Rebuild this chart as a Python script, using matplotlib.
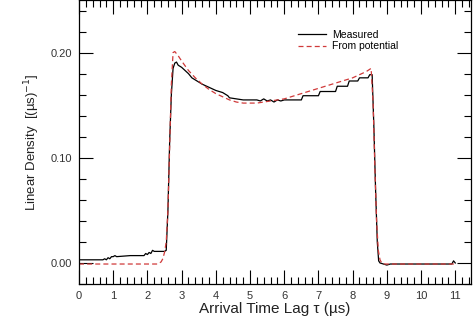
import numpy as np
import matplotlib.pyplot as plt
from matplotlib.ticker import MultipleLocator

# measured linear density (black)
meas_t = [0.0, 0.7, 0.75, 0.8, 0.85, 0.9, 0.95, 1.0, 1.05, 1.1,
          1.5, 1.9, 1.95, 2.0, 2.05, 2.1, 2.15, 2.2, 2.5, 2.55,
          2.6, 2.65, 2.7, 2.75, 2.8, 2.85, 2.9, 3.0, 3.1, 3.2,
          3.3, 3.4, 3.5, 3.6, 3.8, 4.0, 4.2, 4.35, 4.4, 4.6,
          4.8, 5.0, 5.2, 5.3, 5.4, 5.5, 5.6, 5.7, 5.8, 5.9,
          6.0, 6.5, 6.55, 7.0, 7.05, 7.5, 7.55, 7.85, 7.9, 8.15,
          8.2, 8.45, 8.5, 8.57, 8.62, 8.67, 8.72, 8.76, 8.8, 8.9,
          9.0, 9.1, 10.0, 10.9, 10.95, 11.0]
meas_y = [0.003, 0.003, 0.004, 0.003, 0.005, 0.004, 0.006, 0.006, 0.007, 0.006,
          0.007, 0.007, 0.009, 0.008, 0.010, 0.009, 0.012, 0.011, 0.011, 0.012,
          0.050, 0.115, 0.160, 0.185, 0.190, 0.191, 0.188, 0.186, 0.183, 0.180,
          0.176, 0.174, 0.172, 0.170, 0.167, 0.164, 0.162, 0.159, 0.157, 0.156,
          0.155, 0.155, 0.155, 0.154, 0.156, 0.154, 0.155, 0.153, 0.155, 0.154,
          0.155, 0.155, 0.159, 0.159, 0.163, 0.163, 0.168, 0.168, 0.173, 0.173,
          0.176, 0.176, 0.179, 0.179, 0.130, 0.070, 0.020, 0.002, 0.000, -0.001,
          -0.002, -0.001, -0.001, -0.001, 0.002, 0.000]

# density computed from the potential (red dashed)
pot_t = [0.0, 1.0, 2.0, 2.3, 2.4, 2.45, 2.5, 2.55, 2.6, 2.65,
         2.7, 2.75, 2.8, 2.9, 3.0, 3.2, 3.4, 3.6, 3.8, 4.0,
         4.2, 4.4, 4.6, 4.8, 5.0, 5.2, 5.4, 5.6, 5.8, 6.0,
         6.2, 6.4, 6.6, 6.8, 7.0, 7.2, 7.4, 7.6, 7.8, 8.0,
         8.2, 8.4, 8.54, 8.6, 8.65, 8.7, 8.75, 8.8, 8.85, 8.9,
         9.0, 10.0, 11.0]
pot_y = [-0.001, -0.001, -0.001, -0.001, 0.001, 0.004, 0.010, 0.020, 0.050, 0.110,
         0.170, 0.200, 0.201, 0.197, 0.192, 0.183, 0.176, 0.170, 0.165, 0.161,
         0.158, 0.155, 0.153, 0.152, 0.152, 0.152, 0.153, 0.154, 0.155, 0.156,
         0.158, 0.160, 0.162, 0.164, 0.166, 0.168, 0.170, 0.172, 0.174, 0.176,
         0.179, 0.182, 0.185, 0.150, 0.090, 0.040, 0.012, 0.003, 0.000, -0.001,
         -0.001, -0.001, -0.001]

plt.rcParams['font.family'] = ['Liberation Sans', 'DejaVu Sans']

fig = plt.figure(figsize=(4.73, 3.2), dpi=100)
ax = fig.add_axes([79 / 473, 1 - 284 / 320, 392 / 473, 284 / 320])

ax.plot(meas_t, meas_y, color='black', lw=0.9, label='Measured')
ax.plot(pot_t, pot_y, color='#d03a3a', lw=0.9, ls=(0, (4, 2.5)), label='From potential')

ax.set_xlim(0, 11.46)
ax.set_ylim(-0.02, 0.25)
ax.xaxis.set_major_locator(MultipleLocator(1))
ax.xaxis.set_minor_locator(MultipleLocator(0.2))
ax.yaxis.set_major_locator(MultipleLocator(0.1))
ax.yaxis.set_minor_locator(MultipleLocator(0.02))
ax.yaxis.set_major_formatter(plt.FuncFormatter(lambda v, p: f"{v:.2f}"))

ax.tick_params(which='both', direction='in', top=True, right=True,
               labelsize=8, labelcolor='#333333', width=0.8)
ax.tick_params(which='major', length=10, pad=5)
ax.tick_params(which='minor', length=5)
for s in ax.spines.values():
    s.set_linewidth(0.9)

ax.set_xlabel("Arrival Time Lag τ (µs)", fontsize=11, color='#222222', labelpad=1)
ax.set_ylabel(r"Linear Density  [(µs)$^{-1}$]", fontsize=9.5, color='#222222', labelpad=6)

ax.legend(loc='upper left', bbox_to_anchor=(0.548, 0.91), frameon=False, fontsize=7.5,
          handlelength=2.7, handletextpad=0.6, labelspacing=0.15, borderaxespad=0)

fig.savefig("out.png", dpi=100)
